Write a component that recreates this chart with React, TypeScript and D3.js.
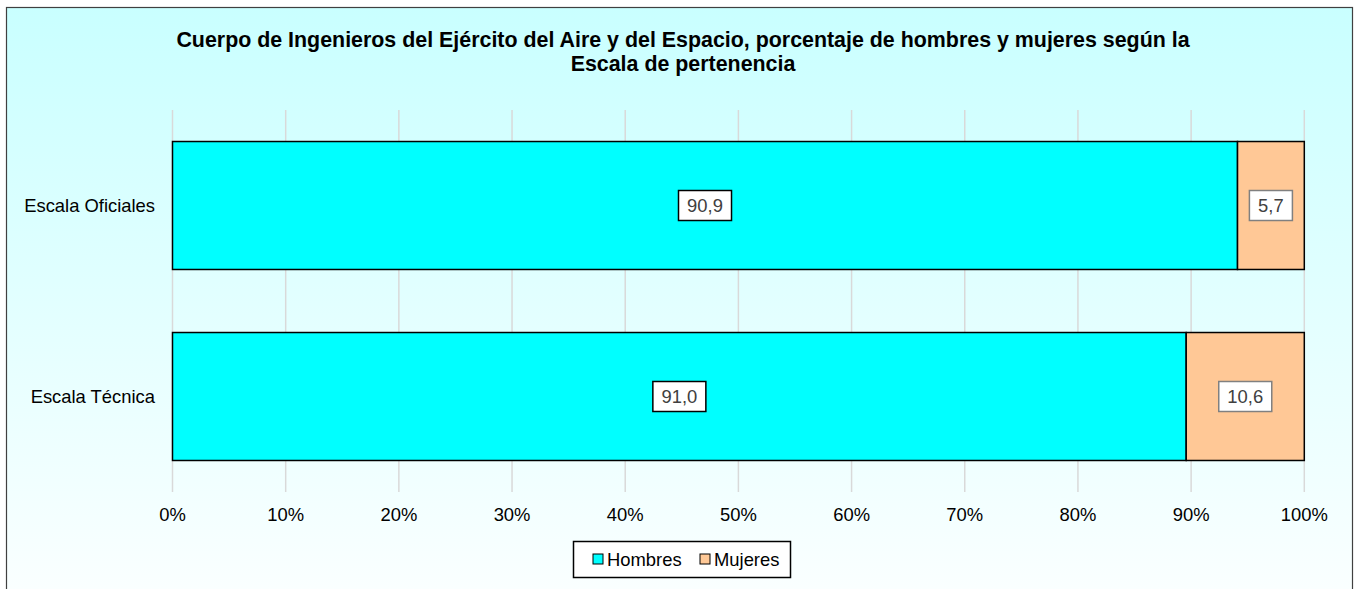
import React, { useEffect, useRef } from 'react';
import * as d3 from 'd3';

const categories = ['Escala Oficiales', 'Escala Técnica'];
const hombres = [90.9, 91.0];
const mujeres = [5.7, 10.6];
const seriesNames = ['Hombres', 'Mujeres'];
const xTicks = [0, 0.1, 0.2, 0.3, 0.4, 0.5, 0.6, 0.7, 0.8, 0.9, 1];
const titleLines = [
  'Cuerpo de Ingenieros del Ejército del Aire y del Espacio, porcentaje de hombres y mujeres según la',
  'Escala de pertenencia',
];

const colors = ['#00ffff', '#ffc896'];
const FONT = 'Arial, "Liberation Sans", sans-serif';
const LABEL_SIZE = '18.4px';

export default function App() {
  const svgRef = useRef<SVGSVGElement | null>(null);

  useEffect(() => {
    if (!svgRef.current) return;
    const svg = d3.select(svgRef.current);
    svg.selectAll('*').remove();

    const width = 1361;
    const height = 589;

    // background with gradient
    const defs = svg.append('defs');
    const grad = defs.append('linearGradient')
      .attr('id', 'bg')
      .attr('x1', 0).attr('y1', 0).attr('x2', 0).attr('y2', 1);
    grad.append('stop').attr('offset', '0%').attr('stop-color', '#c9ffff');
    grad.append('stop').attr('offset', '100%').attr('stop-color', '#ffffff');

    svg.append('rect')
      .attr('width', width).attr('height', height)
      .attr('fill', '#ffffff');
    svg.append('rect')
      .attr('x', 6.5).attr('y', 7.5)
      .attr('width', 1346).attr('height', 640)
      .attr('fill', 'url(#bg)')
      .attr('stroke', '#404040')
      .attr('stroke-width', 1.2);

    // title
    svg.append('g').selectAll('text')
      .data(titleLines)
      .enter()
      .append('text')
      .attr('x', 683)
      .attr('y', (_, i) => 47 + i * 24)
      .attr('text-anchor', 'middle')
      .style('font-family', FONT)
      .style('font-weight', 'bold')
      .style('font-size', '21.4px')
      .attr('fill', '#000')
      .text(d => d);

    const xScale = d3.scaleLinear().domain([0, 1]).range([172.5, 1304.3]);
    const yScale = d3.scaleBand<string>()
      .domain(categories)
      .range([110, 492])
      .paddingInner(0.33)
      .paddingOuter(0.165);

    // gridlines
    svg.append('g').selectAll('line')
      .data(xTicks)
      .enter()
      .append('line')
      .attr('x1', d => xScale(d)).attr('x2', d => xScale(d))
      .attr('y1', 110).attr('y2', 492)
      .attr('stroke', '#d9d9d9')
      .attr('stroke-width', 1.5);

    // x axis labels
    svg.append('g').selectAll('text')
      .data(xTicks)
      .enter()
      .append('text')
      .attr('x', d => xScale(d))
      .attr('y', 521)
      .attr('text-anchor', 'middle')
      .style('font-family', FONT)
      .style('font-size', LABEL_SIZE)
      .attr('fill', '#000')
      .text(d => `${Math.round(d * 100)}%`);

    // category labels
    svg.append('g').selectAll('text')
      .data(categories)
      .enter()
      .append('text')
      .attr('x', 155)
      .attr('y', d => (yScale(d) ?? 0) + yScale.bandwidth() / 2 + 6.5)
      .attr('text-anchor', 'end')
      .style('font-family', FONT)
      .style('font-size', LABEL_SIZE)
      .attr('fill', '#000')
      .text(d => d);

    // stacked 100% bars
    const rows = categories.map((c, i) => {
      const total = hombres[i] + mujeres[i];
      return {
        cat: c,
        segs: [
          { v: hombres[i], x0: 0, x1: hombres[i] / total, s: 0 },
          { v: mujeres[i], x0: hombres[i] / total, x1: 1, s: 1 },
        ],
      };
    });

    const barG = svg.append('g');
    rows.forEach(r => {
      const y = yScale(r.cat) ?? 0;
      const h = yScale.bandwidth();
      r.segs.forEach(seg => {
        barG.append('rect')
          .attr('x', xScale(seg.x0))
          .attr('y', y)
          .attr('width', xScale(seg.x1) - xScale(seg.x0))
          .attr('height', h)
          .attr('fill', colors[seg.s])
          .attr('stroke', '#000')
          .attr('stroke-width', 1.5);
      });
    });

    // data labels
    const labelG = svg.append('g');
    rows.forEach(r => {
      const cy = (yScale(r.cat) ?? 0) + yScale.bandwidth() / 2;
      r.segs.forEach(seg => {
        const cx = (xScale(seg.x0) + xScale(seg.x1)) / 2;
        const txt = seg.v.toFixed(1).replace('.', ',');
        const w = txt.length > 3 ? 53 : 43;
        labelG.append('rect')
          .attr('x', cx - w / 2)
          .attr('y', cy - 15)
          .attr('width', w)
          .attr('height', 30)
          .attr('fill', '#ffffff')
          .attr('stroke', seg.s === 0 ? '#000' : '#808080')
          .attr('stroke-width', 1.5);
        labelG.append('text')
          .attr('x', cx)
          .attr('y', cy + 6.5)
          .attr('text-anchor', 'middle')
          .style('font-family', FONT)
          .style('font-size', LABEL_SIZE)
          .attr('fill', '#404040')
          .text(txt);
      });
    });

    // legend
    const leg = svg.append('g');
    leg.append('rect')
      .attr('x', 573.5).attr('y', 541.5)
      .attr('width', 217).attr('height', 36)
      .attr('fill', '#ffffff')
      .attr('stroke', '#000')
      .attr('stroke-width', 1.5);
    const legX = [593, 700];
    seriesNames.forEach((name, i) => {
      leg.append('rect')
        .attr('x', legX[i]).attr('y', 554)
        .attr('width', 10).attr('height', 10)
        .attr('fill', colors[i])
        .attr('stroke', '#000')
        .attr('stroke-width', 1);
      leg.append('text')
        .attr('x', legX[i] + 14)
        .attr('y', 566)
        .style('font-family', FONT)
        .style('font-size', LABEL_SIZE)
        .attr('fill', '#000')
        .text(name);
    });
  }, []);

  return (
    <svg
      ref={svgRef}
      width={1361}
      height={589}
      style={{ position: 'absolute', left: 0, top: 0, display: 'block' }}
    />
  );
}
